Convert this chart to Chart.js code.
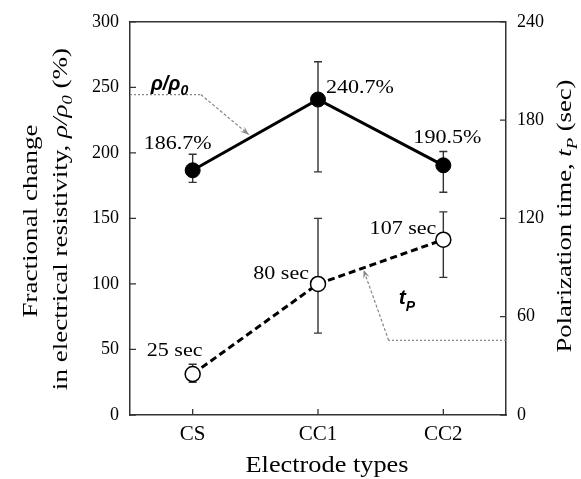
<!DOCTYPE html>
<html><head><meta charset="utf-8">
<script src="https://cdn.jsdelivr.net/npm/chart.js@4/dist/chart.umd.min.js"></script>
<style>html,body{margin:0;padding:0;background:#fff}#wrap{width:581px;height:479px}</style>
</head><body><div id="wrap"><canvas id="c" width="581" height="479"></canvas></div>
<script>
const categories = ['CS', 'CC1', 'CC2'];
const rhoValues = [186.7, 240.7, 190.5];
const rhoErrLow = [177.5, 185.5, 170];
const rhoErrHigh = [199, 269.5, 201];
const tpValues = [25, 80, 107];
const tpErrLow = [20, 50, 84];
const tpErrHigh = [31, 120, 124];
const rhoLabels = ['186.7%', '240.7%', '190.5%'];
const tpLabels = ['25 sec', '80 sec', '107 sec'];
const leftTickStep = 50, leftMax = 300;
const rightTickStep = 60, rightMax = 240;

const SERIF = '"Liberation Serif", "Times New Roman", serif';
const SANS = '"Liberation Sans", Arial, sans-serif';

function drawArrow(ctx, pts, color) {
  ctx.save();
  ctx.strokeStyle = color; ctx.lineWidth = 1.2;
  ctx.setLineDash([2, 2]);
  ctx.beginPath(); ctx.moveTo(pts[0][0], pts[0][1]); ctx.lineTo(pts[1][0], pts[1][1]); ctx.stroke();
  ctx.setLineDash([3, 2]);
  ctx.beginPath(); ctx.moveTo(pts[1][0], pts[1][1]); ctx.lineTo(pts[2][0], pts[2][1]); ctx.stroke();
  const [x1, y1] = pts[1], [x2, y2] = pts[2];
  const a = Math.atan2(y2 - y1, x2 - x1);
  ctx.setLineDash([]);
  ctx.fillStyle = color;
  ctx.beginPath();
  ctx.moveTo(x2, y2);
  ctx.lineTo(x2 - 9 * Math.cos(a - 0.38), y2 - 9 * Math.sin(a - 0.38));
  ctx.lineTo(x2 - 5 * Math.cos(a), y2 - 5 * Math.sin(a));
  ctx.lineTo(x2 - 9 * Math.cos(a + 0.38), y2 - 9 * Math.sin(a + 0.38));
  ctx.closePath(); ctx.fill();
  ctx.restore();
}

function segWidth(ctx, segs) { let w = 0; segs.forEach(s => { ctx.font = s[1]; w += ctx.measureText(s[0]).width; }); return w; }
function drawSegs(ctx, segs, x, y) {
  segs.forEach(s => { ctx.font = s[1]; ctx.fillText(s[0], x, y + (s[2] || 0)); x += ctx.measureText(s[0]).width; });
}
// horizontally stretched text (reference font is wider than Times)
function wideText(ctx, text, x, y, align, font, k) {
  ctx.font = font;
  const w = ctx.measureText(text).width * k;
  const left = align === 'center' ? x - w / 2 : align === 'right' ? x - w : x;
  ctx.save(); ctx.translate(left, y); ctx.scale(k, 1);
  ctx.textAlign = 'left'; ctx.fillText(text, 0, 0);
  ctx.restore();
}

const decorPlugin = {
  id: 'decor',
  beforeDatasetsDraw(chart) {
    const ctx = chart.ctx, xs = chart.scales.x, y = chart.scales.y, y2 = chart.scales.y2;
    ctx.save();
    ctx.strokeStyle = '#333'; ctx.lineWidth = 1.4;
    const bars = (lo, hi, sc) => {
      categories.forEach((c, i) => {
        const px = xs.getPixelForValue(i);
        const a = sc.getPixelForValue(lo[i]), b = sc.getPixelForValue(hi[i]);
        ctx.beginPath();
        ctx.moveTo(px, a); ctx.lineTo(px, b);
        ctx.moveTo(px - 4, a); ctx.lineTo(px + 4, a);
        ctx.moveTo(px - 4, b); ctx.lineTo(px + 4, b);
        ctx.stroke();
      });
    };
    bars(rhoErrLow, rhoErrHigh, y);
    bars(tpErrLow, tpErrHigh, y2);
    ctx.restore();
  },
  afterDraw(chart) {
    const ctx = chart.ctx, ca = chart.chartArea;
    const xs = chart.scales.x, y = chart.scales.y, y2 = chart.scales.y2;
    ctx.save();
    ctx.strokeStyle = '#333'; ctx.lineWidth = 1.5;
    ctx.beginPath(); ctx.moveTo(ca.left, ca.top); ctx.lineTo(ca.right, ca.top); ctx.stroke();
    ctx.lineWidth = 1.3;
    ctx.beginPath();
    y.ticks.forEach(t => { const p = y.getPixelForValue(t.value); ctx.moveTo(ca.left, p); ctx.lineTo(ca.left + 6, p); });
    y2.ticks.forEach(t => { const p = y2.getPixelForValue(t.value); ctx.moveTo(ca.right, p); ctx.lineTo(ca.right - 6, p); });
    categories.forEach((c, i) => { const p = xs.getPixelForValue(i); ctx.moveTo(p, ca.bottom); ctx.lineTo(p, ca.bottom - 6); });
    ctx.stroke();

    drawArrow(ctx, [
      [ca.left, y.getPixelForValue(244.5)],
      [xs.getPixelForValue(0.065), y.getPixelForValue(244.5)],
      [xs.getPixelForValue(0.447), y.getPixelForValue(214)]
    ], '#888');
    drawArrow(ctx, [
      [ca.right, y2.getPixelForValue(45.5)],
      [xs.getPixelForValue(1.564), y2.getPixelForValue(45.5)],
      [xs.getPixelForValue(1.364), y2.getPixelForValue(88.5)]
    ], '#888');

    ctx.fillStyle = '#000';
    ctx.textBaseline = 'alphabetic'; ctx.textAlign = 'left';
    const bi = 'italic bold 20px ' + SANS, biS = 'italic bold 14px ' + SANS;
    drawSegs(ctx, [['ρ/ρ', bi, 0], ['0', biS, 5]], xs.getPixelForValue(-0.335), y.getPixelForValue(248));
    drawSegs(ctx, [['t', 'italic bold 21px ' + SANS, 0], ['P', biS, 7]], xs.getPixelForValue(1.645), y2.getPixelForValue(68));

    // data labels
    const LF = '19px ' + SERIF, LK = 1.16;
    ctx.textBaseline = 'middle';
    const rOff = [[-15, -26, 'center'], [8, -12, 'left'], [4, -27, 'center']];
    rhoValues.forEach((v, i) => {
      wideText(ctx, rhoLabels[i], xs.getPixelForValue(i) + rOff[i][0], y.getPixelForValue(v) + rOff[i][1], rOff[i][2], LF, LK);
    });
    const tOff = [[-18, -23, 'center'], [-9, -10, 'right'], [-7, -11, 'right']];
    tpValues.forEach((v, i) => {
      wideText(ctx, tpLabels[i], xs.getPixelForValue(i) + tOff[i][0], y2.getPixelForValue(v) + tOff[i][1], tOff[i][2], LF, LK);
    });

    // axis titles
    ctx.textBaseline = 'alphabetic';
    wideText(ctx, 'Electrode types', 327, 472, 'center', '22.5px ' + SERIF, 1.17);

    const rot = (cx, cy, k, segs) => {
      ctx.save(); ctx.translate(cx, cy); ctx.rotate(-Math.PI / 2); ctx.scale(k, 1);
      ctx.textAlign = 'left';
      const w = segWidth(ctx, segs);
      drawSegs(ctx, segs, -w / 2, 0);
      ctx.restore();
    };
    const F = '22px ' + SERIF, Fis = 'italic 15px ' + SERIF;
    rot(37, 221, 1.23, [['Fractional change', F, 0]]);
    rot(67, 219, 1.23, [['in electrical resistivity, ', F, 0], ['ρ/ρ', 'italic 22px ' + SERIF, 0], ['0', Fis, 5], [' (%)', F, 0]]);
    const G = '20px ' + SERIF;
    rot(571, 216, 1.33, [['Polarization time, ', G, 0], ['t', 'italic 20px ' + SERIF, 0], ['P', 'italic 14px ' + SERIF, 6], [' (sec)', G, 0]]);
    ctx.restore();
  }
};

new Chart(document.getElementById('c'), {
  type: 'line',
  data: {
    labels: categories,
    datasets: [
      { label: 'rho', data: rhoValues, yAxisID: 'y', borderColor: '#000', borderWidth: 3,
        pointRadius: 7.5, pointBackgroundColor: '#000', pointBorderColor: '#000', pointBorderWidth: 1 },
      { label: 'tp', data: tpValues, yAxisID: 'y2', borderColor: '#000', borderWidth: 3, borderDash: [7, 4],
        pointRadius: 7.5, pointBackgroundColor: '#fff', pointBorderColor: '#000', pointBorderWidth: 1.5 }
    ]
  },
  options: {
    responsive: false, animation: false, devicePixelRatio: 1,
    layout: { padding: { top: 21, left: 0, right: 0, bottom: 0 } },
    plugins: { legend: { display: false }, tooltip: { enabled: false } },
    scales: {
      x: { type: 'category', offset: true,
        grid: { display: false, drawTicks: false },
        border: { color: '#333', width: 1.5 },
        ticks: { color: '#000', font: { family: SERIF, size: 21 }, padding: 7 },
        afterFit: s => { s.height = 64; } },
      y: { position: 'left', min: 0, max: leftMax,
        grid: { display: false, drawTicks: false },
        border: { color: '#333', width: 1.5 },
        ticks: { stepSize: leftTickStep, color: '#000', font: { family: SERIF, size: 18 }, padding: 11 },
        afterFit: s => { s.width = 130; } },
      y2: { position: 'right', min: 0, max: rightMax,
        grid: { display: false, drawTicks: false },
        border: { color: '#333', width: 1.5 },
        ticks: { stepSize: rightTickStep, color: '#000', font: { family: SERIF, size: 18 }, padding: 11 },
        afterFit: s => { s.width = 75; } }
    }
  },
  plugins: [decorPlugin]
});
</script>
</body></html>
